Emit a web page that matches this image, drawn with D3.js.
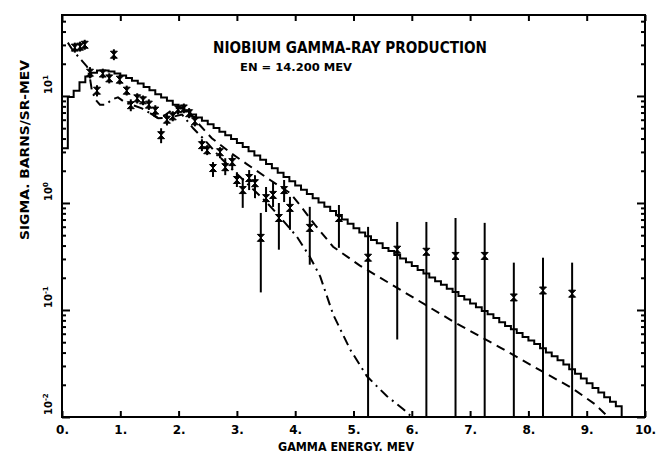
<!DOCTYPE html>
<html>
<head>
<meta charset="utf-8">
<script src="https://cdn.jsdelivr.net/npm/d3@7"></script>
<style>
  body { margin: 0; background: #fff; }
  text { font-family: "DejaVu Sans", sans-serif; font-weight: bold; fill: #000; }
</style>
</head>
<body>
<div id="chart"></div>
<script>
// solid histogram: bin starts (MeV) and values (barns/sr-MeV)
var solidE = [0.0, 0.1, 0.2, 0.3, 0.4, 0.5, 0.6, 0.7, 0.8, 0.9,
  1.0, 1.1, 1.2, 1.3, 1.4, 1.5, 1.6, 1.7, 1.8, 1.9,
  2.0, 2.1, 2.2, 2.3, 2.4, 2.5, 2.6, 2.7, 2.8, 2.9,
  3.0, 3.1, 3.2, 3.3, 3.4, 3.5, 3.6, 3.7, 3.8, 3.9,
  4.0, 4.1, 4.2, 4.3, 4.4, 4.5, 4.6, 4.7, 4.8, 4.9,
  5.0, 5.1, 5.2, 5.3, 5.4, 5.5, 5.6, 5.7, 5.8, 5.9,
  6.0, 6.1, 6.2, 6.3, 6.4, 6.5, 6.6, 6.7, 6.8, 6.9,
  7.0, 7.1, 7.2, 7.3, 7.4, 7.5, 7.6, 7.7, 7.8, 7.9,
  8.0, 8.1, 8.2, 8.3, 8.4, 8.5, 8.6, 8.7, 8.8, 8.9,
  9.0, 9.1, 9.2, 9.3, 9.4, 9.5, 9.6];
var solidVal = [3.25, 9.8, 11.2, 13.4, 15.2, 16.5, 17.3, 17.3, 16.9, 16.2,
  15.5, 14.7, 13.9, 13.1, 12.1, 11.3, 10.4, 9.7, 9.0, 8.3,
  7.65, 7.19, 6.71, 6.28, 5.87, 5.43, 5.01, 4.64, 4.30, 3.96,
  3.63, 3.33, 3.05, 2.78, 2.53, 2.31, 2.11, 1.92, 1.75, 1.60,
  1.46, 1.33, 1.21, 1.11, 1.01, 0.92, 0.84, 0.77, 0.70, 0.64,
  0.58, 0.53, 0.49, 0.45, 0.42, 0.38, 0.355, 0.327, 0.302, 0.279,
  0.257, 0.237, 0.219, 0.201, 0.186, 0.172, 0.158, 0.147, 0.135, 0.125,
  0.115, 0.106, 0.098, 0.091, 0.084, 0.077, 0.071, 0.066, 0.061, 0.056,
  0.052, 0.048, 0.044, 0.040, 0.037, 0.034, 0.031, 0.028, 0.0254, 0.0229,
  0.0207, 0.0187, 0.0169, 0.0153, 0.0139, 0.0126, 0.01];

// dashed curve (joins the dash-dot one below ~1.5 MeV)
var dashE = [1.51, 1.65,
  1.78, 1.92, 2.06, 2.20, 2.37, 2.57, 2.88, 3.17, 3.57, 3.91, 4.08, 4.34, 4.65, 5.11, 5.80, 6.23, 6.71,
  7.51, 8.23, 8.75, 9.14, 9.37];
var dashVal = [6.9, 6.2,
  6.7, 7.65, 7.8, 6.9, 5.3, 4.03, 2.98, 2.31, 1.64, 1.24, 0.957, 0.624, 0.39, 0.26, 0.155, 0.112, 0.078,
  0.0448, 0.0268, 0.0186, 0.0132, 0.01];

// dash-dot curve
var dotE = [0.10, 0.19, 0.34, 0.43, 0.48, 0.51, 0.57, 0.65, 0.75, 0.86, 0.96, 1.08, 1.22, 1.37, 1.51, 1.65,
  1.85, 2.06, 2.25, 2.45, 2.71, 2.93, 3.17, 3.52, 3.74, 4.03, 4.25, 4.43, 4.65, 4.94, 5.23, 5.57, 5.85, 6.0];
var dotVal = [31.5, 26.5, 21.4, 18.8, 14.6, 11.5, 9.3, 8.3, 8.3, 9.3, 9.7, 8.7, 8.2, 7.65, 6.9, 6.2,
  6.3, 6.7, 4.99, 3.86, 2.68, 2.03, 1.53, 1.0, 0.74, 0.483, 0.315, 0.205, 0.091, 0.043, 0.024, 0.0157, 0.0119, 0.01];

// measured points with error bars
var pointE = [0.22, 0.31, 0.39, 0.48, 0.60, 0.70, 0.81, 0.89, 0.99, 1.11, 1.18, 1.29, 1.39, 1.49, 1.60, 1.70,
  1.80, 1.90, 1.99, 2.09, 2.18, 2.28, 2.40, 2.49, 2.59, 2.71, 2.80, 2.92, 3.00, 3.10, 3.21, 3.31,
  3.41, 3.50, 3.62, 3.72, 3.81, 3.91, 4.25, 4.75, 5.25, 5.75, 6.25, 6.75, 7.25, 7.75, 8.25, 8.75];
var pointVal = [28.3, 28.9, 30.1, 16.5, 11.2, 16.2, 14.6, 24.3, 14.2, 11.2, 8.2, 9.5, 9.1, 8.3, 7.3, 4.3,
  6.0, 6.45, 7.5, 7.65, 6.9, 5.8, 3.47, 3.11, 2.12, 2.98, 2.16, 2.41, 1.64, 1.32, 1.71, 1.53,
  0.472, 1.11, 1.19, 0.724, 1.32, 0.90, 0.585, 0.724, 0.308, 0.366, 0.35, 0.32, 0.32, 0.131, 0.152, 0.142];
var pointHi = [31.5, 32.2, 33.5, 18.6, 12.6, 18.0, 16.3, 27.3, 15.8, 12.5, 9.3, 10.6, 10.1, 9.3, 8.2, 4.99,
  6.8, 7.2, 8.3, 8.5, 7.7, 6.5, 3.94, 3.47, 2.41, 3.32, 2.62, 2.80, 1.94, 1.71, 2.03, 1.82,
  0.807, 1.41, 1.57, 1.0, 1.64, 1.14, 0.92, 0.957, 0.598, 0.665, 0.665, 0.724, 0.652, 0.277, 0.308, 0.277];
var pointLo = [25.4, 26.0, 27.0, 14.6, 9.9, 14.6, 13.1, 21.6, 12.8, 10.1, 7.2, 8.5, 8.2, 7.4, 6.5, 3.62,
  5.3, 5.8, 6.7, 6.9, 6.2, 5.2, 3.05, 2.80, 1.75, 2.62, 1.82, 2.03, 1.41, 0.90, 1.32, 1.11,
  0.146, 0.824, 0.918, 0.366, 1.02, 0.561, 0.265, 0.381, 0.001, 0.053, 0.001, 0.001, 0.001, 0.001, 0.001, 0.001];

var xTicks = [0, 1, 2, 3, 4, 5, 6, 7, 8, 9, 10];
var yMajor = [0.01, 0.1, 1, 10];
var yExp = ['-2', '-1', '0', '1'];

var width = 658, height = 454;
var plotL = 62, plotR = 645, plotT = 15, plotB = 417;

var svg = d3.select('#chart').append('svg')
  .attr('width', width)
  .attr('height', height);

svg.append('rect').attr('width', width).attr('height', height).attr('fill', '#fff');

var x = d3.scaleLinear().domain([0, 10]).range([plotL, plotR]);
var y = d3.scaleLog().domain([0.01, 57.1]).range([plotB, plotT]).clamp(true);

var yMinor = [];
yMajor.forEach(function(d) {
  [2, 3, 4, 5, 6, 7, 8, 9].forEach(function(m) {
    if (d * m < 57) yMinor.push(d * m);
  });
});

// frame
svg.append('rect')
  .attr('x', plotL).attr('y', plotT)
  .attr('width', plotR - plotL).attr('height', plotB - plotT)
  .attr('fill', 'none').attr('stroke', '#000').attr('stroke-width', 2);

function styleAxis(g) {
  g.select('.domain').remove();
  g.selectAll('line').attr('stroke', '#000').attr('stroke-width', 2);
}

svg.append('g').attr('transform', 'translate(0,' + plotB + ')')
  .call(d3.axisBottom(x).tickValues(xTicks).tickSize(-6).tickPadding(8)
    .tickFormat(function(d) { return d + '.'; }))
  .call(styleAxis)
  .selectAll('text').style('font-size', '12px').attr('font-family', null);

svg.append('g').attr('transform', 'translate(0,' + plotT + ')')
  .call(d3.axisTop(x).tickValues(xTicks).tickSize(-6).tickFormat(''))
  .call(styleAxis);

[[plotL, d3.axisLeft], [plotR, d3.axisRight]].forEach(function(s) {
  svg.append('g').attr('transform', 'translate(' + s[0] + ',0)')
    .call(s[1](y).tickValues(yMajor).tickSize(-8).tickFormat(''))
    .call(styleAxis);
  svg.append('g').attr('transform', 'translate(' + s[0] + ',0)')
    .call(s[1](y).tickValues(yMinor).tickSize(-4).tickFormat(''))
    .call(styleAxis);
});

// y tick labels, rotated like the plotter output
var yl = svg.append('g').selectAll('text')
  .data(yMajor)
  .enter().append('text')
  .attr('transform', function(d) { return 'translate(52,' + (y(d) - 2) + ')rotate(-90)'; })
  .style('font-size', '10px');
yl.append('tspan').text('10');
yl.append('tspan').attr('dy', -4).style('font-size', '7px')
  .text(function(d, i) { return yExp[i]; });

// curves
var line = d3.line()
  .x(function(d) { return x(d[0]); })
  .y(function(d) { return y(d[1]); });

svg.append('path')
  .attr('d', line.curve(d3.curveStepAfter)(d3.zip(solidE, solidVal)))
  .attr('fill', 'none').attr('stroke', '#000').attr('stroke-width', 2);

svg.append('path')
  .attr('d', line.curve(d3.curveLinear)(d3.zip(dashE, dashVal)))
  .attr('fill', 'none').attr('stroke', '#000').attr('stroke-width', 2)
  .attr('stroke-dasharray', '9,6');

svg.append('path')
  .attr('d', line.curve(d3.curveLinear)(d3.zip(dotE, dotVal)))
  .attr('fill', 'none').attr('stroke', '#000').attr('stroke-width', 2)
  .attr('stroke-dasharray', '10,5,2,5');

// data points
var pts = d3.range(pointE.length).map(function(i) {
  return { e: pointE[i], v: pointVal[i], hi: pointHi[i], lo: pointLo[i] };
});

var pg = svg.append('g').selectAll('g')
  .data(pts)
  .enter().append('g')
  .attr('transform', function(d) { return 'translate(' + x(d.e) + ',0)'; });

pg.append('line')
  .attr('y1', function(d) { return y(d.hi); })
  .attr('y2', function(d) { return y(d.lo); })
  .attr('stroke', '#000').attr('stroke-width', 2);

pg.append('path')
  .attr('transform', function(d) { return 'translate(0,' + y(d.v) + ')'; })
  .attr('d', 'M-3.5,-3.5H3.5L-3.5,3.5H3.5Z')
  .attr('fill', '#000').attr('stroke', '#000').attr('stroke-width', 1);

// titles
svg.append('text')
  .attr('x', 213).attr('y', 53)
  .attr('textLength', 274).attr('lengthAdjust', 'spacingAndGlyphs')
  .style('font-size', '15px')
  .text('NIOBIUM GAMMA-RAY PRODUCTION');

svg.append('text')
  .attr('x', 240).attr('y', 71)
  .attr('textLength', 112).attr('lengthAdjust', 'spacingAndGlyphs')
  .style('font-size', '11px')
  .text('EN = 14.200  MEV');

svg.append('text')
  .attr('x', 278).attr('y', 451)
  .attr('textLength', 136).attr('lengthAdjust', 'spacingAndGlyphs')
  .style('font-size', '13px')
  .text('GAMMA ENERGY. MEV');

svg.append('text')
  .attr('transform', 'translate(29,240)rotate(-90)')
  .attr('textLength', 180).attr('lengthAdjust', 'spacingAndGlyphs')
  .style('font-size', '13px')
  .text('SIGMA. BARNS/SR-MEV');
</script>
</body>
</html>
